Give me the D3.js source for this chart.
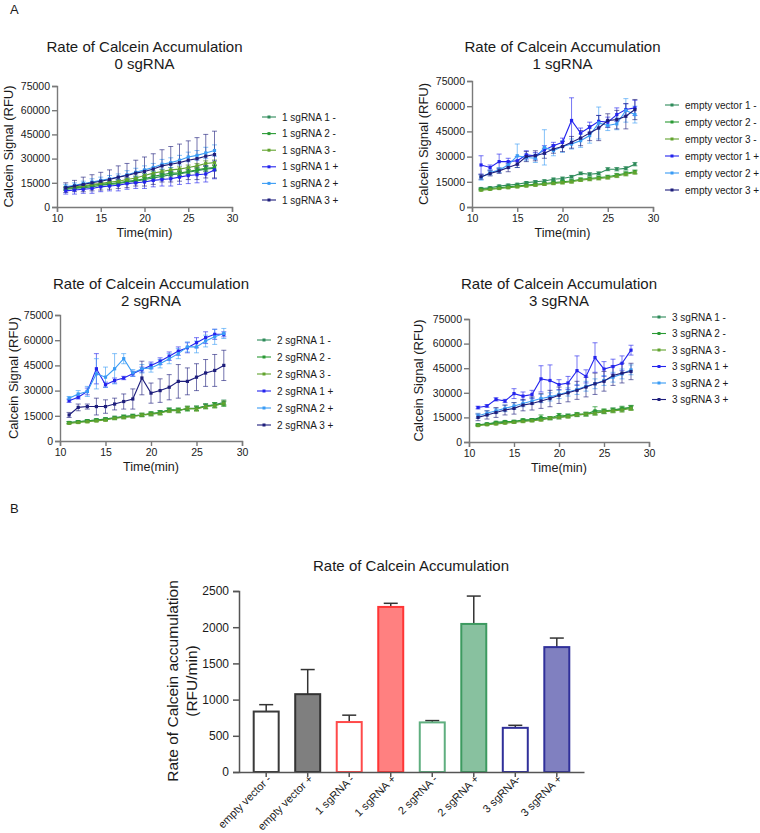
<!DOCTYPE html>
<html><head><meta charset="utf-8">
<script src="https://cdn.jsdelivr.net/npm/d3@7"></script>
<style>body{margin:0;background:#fff;} svg{display:block;font-family:"Liberation Sans",Arial,sans-serif;}</style>
</head><body><svg id="c" width="760" height="833"></svg>
<script>
// ---------- DATA ----------
const timeMin = [11,12,13,14,15,16,17,18,19,20,21,22,23,24,25,26,27,28];
const xTicks = [10,15,20,25,30];
const yTicks = [0,15000,30000,45000,60000,75000];

// Panel: 0 sgRNA (legend "1 sgRNA ...")
const p0Labels = ["1 sgRNA 1 -","1 sgRNA 2 -","1 sgRNA 3 -","1 sgRNA 1 +","1 sgRNA 2 +","1 sgRNA 3 +"];
const p0_1m = [11000,11500,12000,12500,13500,14000,14500,15500,16000,17000,18000,19000,20000,20500,21500,22500,23500,24000];
const p0_1mErr = [800,800,900,900,1000,1000,1100,1100,1200,1200,1300,1300,1400,1400,1500,1500,1600,1600];
const p0_2m = [11500,12000,12500,13500,14000,14500,15000,16000,16500,17500,19000,20000,21000,21000,22000,23000,24000,24500];
const p0_2mErr = [800,800,900,900,1000,1000,1100,1100,1200,1200,1300,1300,1400,1400,1500,1500,1600,1600];
const p0_3m = [12000,12500,13000,14000,14500,15500,16000,17000,18000,19500,21000,22000,23000,23500,24500,25500,27000,27500];
const p0_3mErr = [800,800,900,900,1000,1000,1100,1100,1200,1200,1300,1300,1400,1400,1500,1500,1600,1600];
const p0_1p = [10000,10500,11000,11500,12500,13000,13500,14500,15000,15500,16500,17000,17500,18500,19500,20000,20500,23000];
const p0_1pErr = [2000,2500,2500,3000,3000,3000,3500,3500,3500,4000,4000,4000,4500,4500,5000,5000,5000,5500];
const p0_2p = [12500,13500,14500,15500,16500,17500,18500,20000,21500,23000,24500,26500,27500,29000,31000,32000,33500,35000];
const p0_2pErr = [1500,1500,1500,2000,2000,2000,2000,2500,2500,2500,2500,3000,3000,3000,3000,3000,3500,3500];
const p0_3p = [12000,13000,14000,15000,16000,17000,18500,19500,21000,22000,23500,25500,26500,27500,29000,30000,31500,32500];
const p0_3pErr = [3000,3500,4500,5000,5500,6000,7000,7500,8000,9000,9500,10000,11000,11500,12000,13000,13500,14500];

// Panel: 1 sgRNA (legend "empty vector ...")
const p1Labels = ["empty vector 1 -","empty vector 2 -","empty vector 3 -","empty vector 1 +","empty vector 2 +","empty vector 3 +"];
const p1_1m = [11000,11500,12500,13000,13500,14500,15000,15500,16500,17000,18000,20000,19500,20000,22500,22500,23000,25500];
const p1_1mErr = [500,500,500,600,600,600,700,700,700,800,800,800,900,900,900,1000,1000,1000];
const p1_2m = [10500,11000,11500,12000,12500,13000,13500,14000,14500,15000,15500,16500,17000,17500,18000,19000,20000,21000];
const p1_2mErr = [500,500,500,600,600,600,700,700,700,800,800,800,900,900,900,1000,1000,1000];
const p1_3m = [10000,10500,11000,11500,12000,12500,13000,13500,14000,14500,15000,16000,16500,17000,17500,18500,19500,20500];
const p1_3mErr = [500,500,500,600,600,600,700,700,700,800,800,800,900,900,900,1000,1000,1000];
const p1_1p = [25000,23500,27000,27000,27500,31000,30500,34000,36500,38500,51500,44000,47500,51000,50500,55000,58000,59000];
const p1_1pErr = [5500,1500,4500,2000,2500,2500,2000,2500,2000,2500,13500,3000,3000,3500,3000,4000,3500,4500];
const p1_2p = [17500,20500,22000,25000,30500,29500,29000,35500,33500,36000,37500,39500,42500,50000,48500,49500,57500,55000];
const p1_2pErr = [1500,1500,1500,2000,7000,2000,2500,10500,3000,3500,3000,4000,4500,9500,3000,3500,7000,5000];
const p1_3p = [18000,20000,21500,23500,25500,30000,30500,32000,34500,36000,38500,41000,44000,47000,51500,52000,54000,58000];
const p1_3pErr = [1500,1500,1500,2500,2000,3000,3000,3000,2500,3000,3500,4500,4500,7500,4000,5500,7500,6000];

// Panel: 2 sgRNA
const p2Labels = ["2 sgRNA 1 -","2 sgRNA 2 -","2 sgRNA 3 -","2 sgRNA 1 +","2 sgRNA 2 +","2 sgRNA 3 +"];
const p2_1m = [11000,11500,12000,12500,13000,14000,14500,15000,15500,16000,17000,18500,18000,19500,19500,21000,21500,23000];
const p2_1mErr = [600,600,700,700,800,800,900,900,1000,1000,1100,1100,1200,1200,1300,1300,1400,1400];
const p2_2m = [11000,11500,12000,12500,13000,13500,14500,15000,15500,16500,17000,18500,18500,19000,19500,20500,21500,22000];
const p2_2mErr = [600,600,700,700,800,800,900,900,1000,1000,1100,1100,1200,1200,1300,1300,1400,1400];
const p2_3m = [10500,11000,11500,12000,12500,13500,14000,14500,15500,16000,16500,18000,18000,19500,19000,20500,21000,22500];
const p2_3mErr = [600,600,700,700,800,800,900,900,1000,1000,1100,1100,1200,1200,1300,1300,1400,1400];
const p2_1p = [24000,26000,29500,43000,33500,36000,37500,40000,42500,45000,47500,50500,53500,55500,58500,61500,63500,63500];
const p2_1pErr = [1000,1000,2000,9000,1500,1500,1000,1500,1500,2000,2000,2500,2500,3000,3000,3500,3000,1500];
const p2_2p = [25500,28000,29500,40000,38000,43000,49000,40500,43000,43500,46000,49000,52000,56000,56000,59500,62000,64000];
const p2_2pErr = [1000,2000,3000,9000,6000,9000,3000,2000,2500,2500,2500,3000,3000,3000,3500,3500,4500,3000];
const p2_3p = [15500,20000,20500,20500,20500,22000,23500,25000,37500,28500,30000,32000,35500,35500,38000,40500,42000,45000];
const p2_3pErr = [1500,2000,1500,5000,4000,3500,4500,6000,10000,6000,7000,7500,10000,8000,8000,8000,9500,9000];

// Panel: 3 sgRNA
const p3Labels = ["3 sgRNA 1 -","3 sgRNA 2 -","3 sgRNA 3 -","3 sgRNA 1 +","3 sgRNA 2 +","3 sgRNA 3 +"];
const p3_1m = [10500,11000,11500,12000,12500,13000,13500,14000,14500,15000,16000,16500,17000,18000,18500,19500,20000,21000];
const p3_1mErr = [500,500,600,600,700,700,800,800,900,900,1000,1000,1100,1100,1200,1200,1300,1300];
const p3_2m = [10500,11000,12000,12500,12500,13500,13500,15000,14500,16500,16000,17000,17000,19000,19000,19500,20500,21000];
const p3_2mErr = [500,500,600,600,700,700,800,1500,900,900,1000,1000,1100,2500,1200,1200,1300,1300];
const p3_3m = [10000,10500,11000,11500,12000,12500,13000,13500,14500,15000,15500,16500,17000,17500,18500,19000,19500,20500];
const p3_3mErr = [500,500,600,600,700,700,800,800,900,900,1000,1000,1100,1100,1200,1200,1300,1300];
const p3_1p = [21000,22000,26000,25000,29500,28000,29000,38500,37500,35000,36000,43500,40000,51500,44500,46000,48000,56000];
const p3_1pErr = [800,800,1000,1000,3000,2500,2500,8000,9500,3000,4000,9000,4000,9000,4500,4500,4500,3000];
const p3_2p = [16000,17500,19000,20500,22000,23500,25000,26500,27500,29000,30500,32000,34000,35500,37500,39500,41500,44000];
const p3_2pErr = [1500,1500,1500,2000,2000,2000,2000,2500,2500,2500,2500,3000,3000,3000,3000,3000,3000,3000];
const p3_3p = [15000,16500,18000,19500,20500,22500,23500,25000,26500,28500,30000,31500,33500,35500,37000,40500,42000,43000];
const p3_3pErr = [2000,2500,3000,3000,3500,3500,4000,4500,5000,5000,5500,5500,6000,6500,6000,6000,6000,5000];

// Bar chart
const barCats = ["empty vector -","empty vector +","1 sgRNA -","1 sgRNA +","2 sgRNA -","2 sgRNA +","3 sgRNA-","3 sgRNA +"];
const barVals = [835,1075,690,2280,685,2045,610,1725];
const barErrs = [95,340,95,50,25,385,35,125];
const barTicks = [0,500,1000,1500,2000,2500];

// ---------- STYLE ----------
const seriesColors = ["#2e8b5a","#2a9a34","#62a32e","#2424ee","#3a9cf5","#1e1e7c"];
const barFill   = ["#ffffff","#7f7f7f","#ffffff","#ff8080","#ffffff","#88c19f","#ffffff","#8080c0"];
const barStroke = ["#3a3a3a","#333333","#ff4a4a","#ff3535","#5fae7f","#3d9a60","#30309a","#30309a"];

const svg = d3.select("#c");
const txt = "#1a1a1a";

svg.append("text").attr("x",10).attr("y",14).attr("font-size",13).attr("fill",txt).text("A");
svg.append("text").attr("x",10).attr("y",513).attr("font-size",13).attr("fill",txt).text("B");

function panel(cfg){
  const x = d3.scaleLinear().domain([10,30]).range([cfg.x0,cfg.x1]);
  const y = d3.scaleLinear().domain([0,75000]).range([cfg.y0,cfg.y1]);
  const g = svg.append("g");
  const cx = (cfg.x0+cfg.x1)/2;
  g.append("text").attr("x",cx).attr("y",cfg.ty).attr("text-anchor","middle").attr("font-size",15).attr("fill",txt).text("Rate of Calcein Accumulation");
  g.append("text").attr("x",cx).attr("y",cfg.ty+17).attr("text-anchor","middle").attr("font-size",15).attr("fill",txt).text(cfg.sub);

  const ya = g.append("g").attr("transform",`translate(${cfg.x0},0)`)
    .call(d3.axisLeft(y).tickValues(yTicks).tickSize(5).tickPadding(2).tickFormat(d3.format("d")));
  const xa = g.append("g").attr("transform",`translate(0,${cfg.y0})`)
    .call(d3.axisBottom(x).tickValues(xTicks).tickSize(5).tickPadding(3));
  [ya,xa].forEach(a=>{
    a.selectAll("path,line").attr("stroke","#7a7a7a").attr("stroke-width",1.4);
    a.selectAll("text").attr("font-size",10.5).attr("fill",txt).attr("font-family","Liberation Sans, Arial, sans-serif");
  });
  g.append("text").attr("x",cx).attr("y",cfg.y0+30).attr("text-anchor","middle").attr("font-size",12.5).attr("fill",txt).text("Time(min)");
  g.append("text").attr("transform",`translate(${cfg.yt},${(cfg.y0+cfg.y1)/2}) rotate(-90)`).attr("text-anchor","middle").attr("font-size",13).attr("fill",txt).text("Calcein Signal (RFU)");

  const line = d3.line().x(d=>x(d.t)).y(d=>y(d.v));
  cfg.series.forEach((s,i)=>{
    const pts = timeMin.map((t,k)=>({t,v:s.v[k],e:s.e[k]}));
    const col = seriesColors[i];
    const eg = g.append("g").attr("stroke",col).attr("stroke-opacity",i>=3?0.62:0.75).attr("stroke-width",1);
    pts.forEach(p=>{
      eg.append("line").attr("x1",x(p.t)).attr("x2",x(p.t)).attr("y1",y(p.v-p.e)).attr("y2",y(p.v+p.e));
      eg.append("line").attr("x1",x(p.t)-2.5).attr("x2",x(p.t)+2.5).attr("y1",y(p.v+p.e)).attr("y2",y(p.v+p.e));
      eg.append("line").attr("x1",x(p.t)-2.5).attr("x2",x(p.t)+2.5).attr("y1",y(p.v-p.e)).attr("y2",y(p.v-p.e));
    });
  });
  cfg.series.forEach((s,i)=>{
    const pts = timeMin.map((t,k)=>({t,v:s.v[k]}));
    const col = seriesColors[i];
    g.append("path").datum(pts).attr("d",line).attr("fill","none").attr("stroke",col).attr("stroke-width",1.1);
    g.append("g").selectAll("rect").data(pts).join("rect")
      .attr("x",d=>x(d.t)-1.6).attr("y",d=>y(d.v)-1.6).attr("width",3.2).attr("height",3.2).attr("fill",col);
  });
  // legend
  const lg = g.append("g");
  cfg.labels.forEach((lab,i)=>{
    const yy = cfg.ly + i*cfg.ls;
    const col = seriesColors[i];
    lg.append("line").attr("x1",cfg.lx).attr("x2",cfg.lx+14).attr("y1",yy).attr("y2",yy).attr("stroke",col).attr("stroke-width",1.1);
    lg.append("rect").attr("x",cfg.lx+5.5).attr("y",yy-1.5).attr("width",3).attr("height",3).attr("fill",col);
    lg.append("text").attr("x",cfg.lx+20).attr("y",yy).attr("dy","0.35em").attr("font-size",10).attr("fill",txt).text(lab);
  });
}

panel({x0:57,x1:232,y0:207,y1:86,ty:52,sub:"0 sgRNA",yt:13,lx:262,ly:117,ls:16.6,labels:p0Labels,
  series:[{v:p0_1m,e:p0_1mErr},{v:p0_2m,e:p0_2mErr},{v:p0_3m,e:p0_3mErr},{v:p0_1p,e:p0_1pErr},{v:p0_2p,e:p0_2pErr},{v:p0_3p,e:p0_3pErr}]});
panel({x0:472,x1:653,y0:207,y1:81,ty:52,sub:"1 sgRNA",yt:428,lx:665,ly:105,ls:17,labels:p1Labels,
  series:[{v:p1_1m,e:p1_1mErr},{v:p1_2m,e:p1_2mErr},{v:p1_3m,e:p1_3mErr},{v:p1_1p,e:p1_1pErr},{v:p1_2p,e:p1_2pErr},{v:p1_3p,e:p1_3pErr}]});
panel({x0:60,x1:242,y0:441,y1:315,ty:289,sub:"2 sgRNA",yt:18,lx:257,ly:340,ls:17,labels:p2Labels,
  series:[{v:p2_1m,e:p2_1mErr},{v:p2_2m,e:p2_2mErr},{v:p2_3m,e:p2_3mErr},{v:p2_1p,e:p2_1pErr},{v:p2_2p,e:p2_2pErr},{v:p2_3p,e:p2_3pErr}]});
panel({x0:469,x1:649,y0:442,y1:319,ty:289,sub:"3 sgRNA",yt:423,lx:652,ly:317,ls:16.5,labels:p3Labels,
  series:[{v:p3_1m,e:p3_1mErr},{v:p3_2m,e:p3_2mErr},{v:p3_3m,e:p3_3mErr},{v:p3_1p,e:p3_1pErr},{v:p3_2p,e:p3_2pErr},{v:p3_3p,e:p3_3pErr}]});

// ---------- BAR CHART ----------
const bx = d3.scaleBand().domain(barCats).range([239,584]).paddingInner(0.35).paddingOuter(0.33);
const by = d3.scaleLinear().domain([0,2500]).range([772,591]);
const bg = svg.append("g");
bg.append("text").attr("x",411).attr("y",571).attr("text-anchor","middle").attr("font-size",15).attr("fill",txt).text("Rate of Calcein Accumulation");
bg.append("text").attr("transform",`translate(178,681) rotate(-90)`).attr("text-anchor","middle").attr("font-size",15.5).attr("fill",txt).text("Rate of Calcein accumulation");
bg.append("text").attr("transform",`translate(197,681) rotate(-90)`).attr("text-anchor","middle").attr("font-size",15.5).attr("fill",txt).text("(RFU/min)");

// error bars (upper)
barCats.forEach((c,i)=>{
  const cx = bx(c)+bx.bandwidth()/2;
  bg.append("line").attr("x1",cx).attr("x2",cx).attr("y1",by(barVals[i])).attr("y2",by(barVals[i]+barErrs[i])).attr("stroke","#333").attr("stroke-width",1.5);
  bg.append("line").attr("x1",cx-7).attr("x2",cx+7).attr("y1",by(barVals[i]+barErrs[i])).attr("y2",by(barVals[i]+barErrs[i])).attr("stroke","#333").attr("stroke-width",1.5);
});
bg.selectAll("rect.bar").data(barCats).join("rect").attr("class","bar")
  .attr("x",d=>bx(d)+1).attr("width",bx.bandwidth()-2)
  .attr("y",(d,i)=>by(barVals[i])).attr("height",(d,i)=>by(0)-by(barVals[i]))
  .attr("fill",(d,i)=>barFill[i]).attr("stroke",(d,i)=>barStroke[i]).attr("stroke-width",2);

const bya = bg.append("g").attr("transform","translate(239,0)")
  .call(d3.axisLeft(by).tickValues(barTicks).tickSize(6).tickPadding(4).tickFormat(d3.format("d")));
const bxa = bg.append("g").attr("transform","translate(0,772)")
  .call(d3.axisBottom(bx).tickSize(5).tickSizeOuter(0));
[bya,bxa].forEach(a=>{
  a.selectAll("path,line").attr("stroke","#555").attr("stroke-width",1.5);
  a.selectAll("text").attr("font-size",12).attr("fill",txt).attr("font-family","Liberation Sans, Arial, sans-serif");
});
bxa.selectAll(".tick text").attr("font-size",11).attr("text-anchor","end").attr("y",0).attr("dy","0.35em")
  .attr("transform","translate(3,5) rotate(-45)");
</script></body></html>
